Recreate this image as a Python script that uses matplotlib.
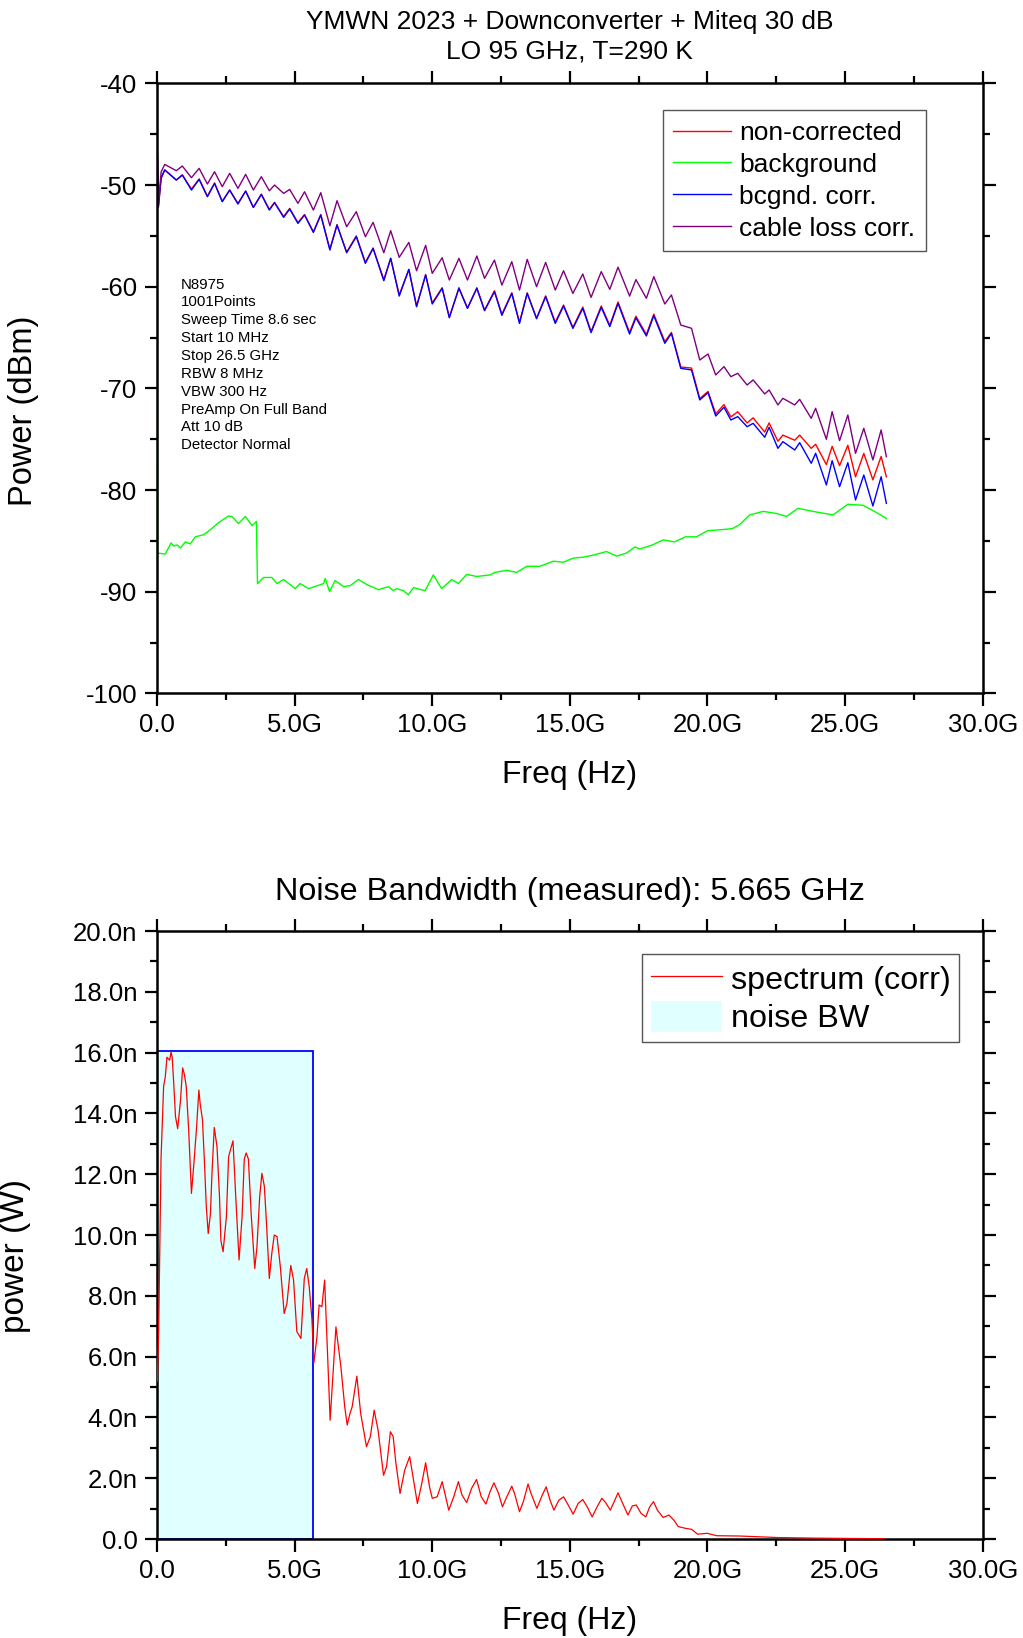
import matplotlib
matplotlib.use("Agg")
import matplotlib.pyplot as plt
from matplotlib.ticker import MultipleLocator, FuncFormatter

plt.rcParams['font.family'] = ['Liberation Sans', 'DejaVu Sans']
plt.rcParams['axes.unicode_minus'] = False

# ---- top panel: spectrum analyser traces, freq in GHz, power in dBm
freq_top = [0.01, 0.05, 0.15, 0.28, 0.7, 0.92, 1.25, 1.53, 1.83, 2.09, 2.37, 2.64, 2.94, 3.22,
            3.5, 3.79, 4.08, 4.27, 4.6, 4.82, 5.12, 5.36, 5.68, 5.95, 6.28, 6.54, 6.89, 7.24,
            7.57, 7.85, 8.24, 8.49, 8.8, 9.15, 9.43, 9.76, 10.0, 10.36, 10.62, 10.97, 11.28,
            11.62, 11.9, 12.26, 12.53, 12.89, 13.17, 13.45, 13.79, 14.12, 14.47, 14.77, 15.11,
            15.47, 15.77, 16.14, 16.45, 16.75, 17.17, 17.4, 17.78, 18.05, 18.45, 18.69, 19.03,
            19.42, 19.72, 20.02, 20.3, 20.6, 20.85, 21.1, 21.44, 21.66, 22.08, 22.24, 22.56,
            22.74, 23.17, 23.35, 23.77, 23.93, 24.32, 24.53, 24.8, 25.1, 25.38, 25.68, 26.01,
            26.31, 26.5]
non_corrected = [-46.8, -52.2, -49.3, -48.5, -49.5, -49.0, -50.4, -49.4, -51.1, -49.8, -51.6,
                 -50.5, -51.8, -50.6, -52.2, -50.9, -52.4, -51.7, -53.1, -52.3, -53.7, -52.9,
                 -54.6, -52.9, -56.3, -53.9, -56.6, -55.0, -57.6, -56.2, -59.3, -57.2, -60.8,
                 -58.3, -61.9, -58.8, -61.6, -60.1, -63.0, -60.1, -62.1, -60.1, -62.3, -60.4,
                 -62.7, -60.6, -63.5, -60.6, -63.1, -60.9, -63.5, -61.8, -64.0, -62.0, -64.4,
                 -61.9, -63.8, -61.5, -64.5, -62.9, -64.7, -62.7, -65.4, -64.5, -67.9, -68.0,
                 -71.0, -70.3, -72.5, -71.6, -72.8, -72.3, -73.4, -72.9, -74.3, -73.4, -75.2,
                 -74.6, -75.1, -74.6, -75.9, -75.5, -77.5, -75.7, -77.6, -75.6, -78.7, -76.4,
                 -79.0, -76.7, -78.7]
bcgnd_corr = [-46.8, -52.1, -49.3, -48.52, -49.51, -49.02, -50.49, -49.44, -51.15, -49.84, -51.64,
              -50.49, -51.87, -50.59, -52.2, -50.92, -52.46, -51.74, -53.18, -52.36, -53.77, -52.95,
              -54.66, -52.95, -56.39, -53.93, -56.66, -55.08, -57.7, -56.23, -59.41, -57.21, -60.92,
              -58.3, -61.97, -58.85, -61.7, -60.16, -63.05, -60.16, -62.13, -60.16, -62.36, -60.49,
              -62.82, -60.66, -63.61, -60.66, -63.15, -60.98, -63.61, -61.9, -64.1, -62.13, -64.52,
              -62.03, -63.93, -61.64, -64.66, -63.06, -64.85, -62.85, -65.57, -64.6, -68.03, -68.19,
              -71.14, -70.42, -72.72, -71.86, -73.11, -72.78, -73.77, -73.44, -74.81, -73.83, -75.9,
              -75.24, -76.06, -75.34, -77.37, -76.39, -79.5, -77.11, -79.67, -77.31, -80.98, -78.52,
              -81.57, -78.69, -81.31]
cable_loss_corr = [-46.6, -51.9, -48.7, -47.97, -48.59, -48.13, -49.28, -48.36, -49.9, -48.69, -50.16,
                   -48.85, -50.33, -48.95, -50.49, -49.18, -50.56, -50.0, -50.82, -50.43, -51.8, -50.66,
                   -52.46, -50.75, -54.0, -51.54, -54.1, -52.62, -55.08, -53.67, -56.66, -54.49, -57.11,
                   -55.64, -58.43, -55.93, -58.69, -57.15, -59.34, -57.21, -59.34, -56.98, -59.18, -57.38,
                   -59.84, -57.54, -60.33, -57.31, -60.0, -57.61, -60.33, -58.43, -60.66, -58.75, -61.05,
                   -58.52, -60.26, -58.08, -60.92, -59.3, -61.14, -59.01, -61.7, -60.81, -63.77, -64.09,
                   -67.21, -66.62, -68.68, -67.86, -68.85, -68.52, -69.67, -69.17, -70.55, -70.16, -71.63,
                   -70.98, -71.63, -71.08, -72.95, -71.96, -75.01, -72.29, -75.14, -72.62, -76.39, -73.93,
                   -77.04, -74.09, -76.72]

freq_bg = [0.0, 0.02, 0.3, 0.51, 0.6, 0.73, 0.85, 1.03, 1.21, 1.39, 1.69, 1.94, 2.24, 2.6, 2.72,
           2.96, 3.21, 3.45, 3.61, 3.65, 3.87, 4.17, 4.36, 4.6, 5.02, 5.2, 5.51, 6.05, 6.11, 6.27,
           6.47, 6.78, 7.02, 7.32, 7.62, 8.05, 8.41, 8.59, 8.71, 8.95, 9.13, 9.32, 9.74, 10.04,
           10.34, 10.71, 10.95, 11.25, 11.62, 12.1, 12.28, 12.7, 13.07, 13.43, 13.91, 14.4, 14.76,
           15.12, 15.49, 15.85, 16.33, 16.7, 17.06, 17.36, 17.54, 18.0, 18.4, 18.8, 19.2, 19.6,
           20.0, 20.5, 20.9, 21.17, 21.53, 22.02, 22.5, 22.87, 23.29, 23.83, 24.56, 25.1, 25.65,
           26.07, 26.5]
background = [-38.0, -86.2, -86.3, -85.2, -85.5, -85.4, -85.7, -85.1, -85.3, -84.6, -84.4, -83.9,
              -83.2, -82.55, -82.6, -83.3, -82.6, -83.5, -83.1, -89.2, -88.6, -88.6, -89.2, -88.8,
              -89.7, -89.2, -89.7, -89.2, -88.7, -90.0, -88.9, -89.5, -89.4, -88.8, -89.3, -89.8,
              -89.5, -89.9, -89.7, -89.9, -90.3, -89.6, -89.9, -88.35, -89.7, -88.8, -89.2, -88.3,
              -88.5, -88.35, -88.1, -87.9, -88.1, -87.5, -87.5, -87.0, -87.1, -86.7, -86.6, -86.4,
              -86.05, -86.5, -86.2, -85.6, -85.8, -85.4, -84.9, -85.1, -84.6, -84.6, -84.0, -83.9,
              -83.8, -83.4, -82.45, -82.1, -82.3, -82.6, -81.8, -82.1, -82.45, -81.4, -81.5, -82.1,
              -82.8]

settings = ["N8975", "1001Points", "Sweep Time 8.6 sec", "Start 10 MHz", "Stop 26.5 GHz",
            "RBW 8 MHz", "VBW 300 Hz", "PreAmp On Full Band", "Att 10 dB", "Detector Normal"]

# ---- bottom panel: corrected spectrum, freq in GHz, power in nW
freq_spec = [0.01, 0.06, 0.145, 0.24, 0.3, 0.36, 0.46, 0.51, 0.55, 0.6, 0.67, 0.75, 0.85, 0.93, 0.99,
             1.06, 1.15, 1.25, 1.33, 1.43, 1.52, 1.57, 1.65, 1.72, 1.79, 1.86, 1.94, 2.0, 2.08, 2.18,
             2.27, 2.32, 2.4, 2.52, 2.6, 2.76, 2.86, 2.98, 3.09, 3.17, 3.24, 3.32, 3.42, 3.55, 3.63,
             3.73, 3.81, 3.9, 3.97, 4.08, 4.17, 4.26, 4.36, 4.48, 4.62, 4.72, 4.86, 4.96, 5.08, 5.23,
             5.35, 5.44, 5.53, 5.63, 5.7, 5.81, 5.89, 5.99, 6.09, 6.29, 6.5, 6.68, 6.82, 6.91, 7.01,
             7.09, 7.26, 7.4, 7.61, 7.75, 7.89, 8.03, 8.23, 8.34, 8.48, 8.58, 8.68, 8.83, 9.0, 9.18,
             9.32, 9.46, 9.62, 9.76, 9.9, 10.0, 10.18, 10.36, 10.46, 10.6, 10.78, 10.95, 11.08, 11.25,
             11.43, 11.61, 11.78, 11.95, 12.1, 12.24, 12.41, 12.55, 12.71, 12.89, 12.99, 13.17, 13.31,
             13.48, 13.59, 13.8, 13.98, 14.14, 14.28, 14.42, 14.6, 14.77, 14.91, 15.12, 15.3, 15.47,
             15.63, 15.81, 15.99, 16.16, 16.3, 16.47, 16.61, 16.75, 16.93, 17.11, 17.27, 17.41, 17.59,
             17.76, 17.9, 18.04, 18.18, 18.39, 18.6, 18.78, 18.94, 19.22, 19.43, 19.64, 19.99, 20.33,
             21.17, 22.55, 23.95, 25.34, 26.45]
spectrum_corr = [5.2, 6.9, 12.5, 14.9, 15.2, 15.85, 15.75, 16.03, 15.85, 15.1, 13.9, 13.5, 14.4, 15.5,
                 15.3, 14.9, 13.45, 11.37, 12.25, 13.45, 14.77, 14.3, 13.8, 12.47, 10.93, 10.05, 10.7,
                 12.1, 13.54, 12.9, 11.26, 9.83, 9.45, 10.6, 12.58, 13.1, 11.26, 9.18, 10.6, 12.5, 12.7,
                 12.5, 10.7, 8.9, 9.6, 11.26, 12.03, 11.6, 10.5, 8.57, 9.4, 10.0, 9.95, 8.96, 7.42, 7.75,
                 9.0, 8.52, 6.82, 6.6, 8.57, 8.9, 8.3, 7.2, 5.8, 6.65, 7.7, 7.64, 8.52, 3.91, 6.98, 5.67,
                 4.35, 3.75, 4.13, 4.35, 5.36, 4.13, 3.04, 3.37, 4.24, 3.59, 2.1, 2.38, 3.53, 3.37, 2.49,
                 1.5, 2.27, 2.71, 1.94, 1.17, 1.83, 2.51, 1.72, 1.34, 1.39, 1.89, 1.5, 0.95, 1.39, 1.89,
                 1.45, 1.2, 1.67, 1.96, 1.39, 1.15, 1.56, 1.85, 1.5, 1.06, 1.39, 1.74, 1.5, 0.9, 1.23,
                 1.81, 1.5, 1.01, 1.41, 1.72, 1.28, 0.95, 1.28, 1.39, 1.17, 0.82, 1.17, 1.3, 1.06, 0.73,
                 1.06, 1.34, 1.2, 0.95, 1.23, 1.52, 1.15, 0.79, 1.09, 1.12, 0.84, 0.73, 1.06, 1.23, 0.95,
                 0.71, 0.79, 0.62, 0.41, 0.35, 0.32, 0.16, 0.19, 0.11, 0.1, 0.05, 0.03, 0.02, 0.01]
noise_bw = 5.665       # GHz
noise_bw_height = 16.06  # nW


def style_axes(ax):
    for s in ax.spines.values():
        s.set_linewidth(1.8)
    ax.tick_params(which='both', direction='out', top=True, right=True, width=1.6,
                   labelsize=18.5, pad=5)
    ax.tick_params(which='major', length=9)
    ax.tick_params(which='minor', length=5)


def freq_fmt(v, pos):
    return "0.0" if v == 0 else f"{v:.1f}G"


fig = plt.figure(figsize=(10.23, 16.38), dpi=100)

# top plot
ax1 = fig.add_axes([0.1535, 0.5767, 0.8071, 0.3724])
ax1.plot(freq_top, non_corrected, color='#FF0000', lw=1.0, label='non-corrected')
ax1.plot(freq_bg, background, color='#00FF00', lw=1.0, label='background')
ax1.plot(freq_top, bcgnd_corr, color='#0000FF', lw=1.0, label='bcgnd. corr.')
ax1.plot(freq_top, cable_loss_corr, color='#800080', lw=1.0, label='cable loss corr.')
ax1.set_xlim(0, 30)
ax1.set_ylim(-100, -40)
ax1.xaxis.set_major_locator(MultipleLocator(5))
ax1.xaxis.set_minor_locator(MultipleLocator(2.5))
ax1.yaxis.set_major_locator(MultipleLocator(10))
ax1.yaxis.set_minor_locator(MultipleLocator(5))
ax1.xaxis.set_major_formatter(FuncFormatter(freq_fmt))
style_axes(ax1)
ax1.set_xlabel('Freq (Hz)', fontsize=23)
ax1.xaxis.set_label_coords(0.5, -0.109)
ax1.set_ylabel('Power (dBm)', fontsize=23.5)
ax1.yaxis.set_label_coords(-0.143, 0.464)
leg1 = ax1.legend(loc='upper right', bbox_to_anchor=(0.931, 0.956), borderaxespad=0,
                  fontsize=19, fancybox=False, edgecolor='#555555', handlelength=2.2,
                  handletextpad=0.3, labelspacing=0.3, borderpad=0.4, framealpha=1)
leg1.get_frame().set_linewidth(1.0)
ax1.text(0.88, -59.1, "\n".join(settings), fontsize=10.8, va='top', ha='left', linespacing=1.35)

fig.text(0.557, 0.9822, 'YMWN 2023 + Downconverter + Miteq 30 dB', fontsize=19,
         ha='center', va='baseline')
fig.text(0.557, 0.9640, 'LO 95 GHz, T=290 K', fontsize=19, ha='center', va='baseline')

# bottom plot
ax2 = fig.add_axes([0.1535, 0.0604, 0.8071, 0.3712])
ax2.bar(0, noise_bw_height, width=noise_bw, align='edge', color='#E0FFFF',
        edgecolor='none', label='noise BW', zorder=1)
ax2.bar(0, noise_bw_height, width=noise_bw, align='edge', fill=False,
        edgecolor='#0000FF', lw=1.3, zorder=2)
ax2.plot(freq_spec, spectrum_corr, color='#FF0000', lw=0.9, label='spectrum (corr)', zorder=3)
ax2.set_xlim(0, 30)
ax2.set_ylim(0, 20)
ax2.xaxis.set_major_locator(MultipleLocator(5))
ax2.xaxis.set_minor_locator(MultipleLocator(2.5))
ax2.yaxis.set_major_locator(MultipleLocator(2))
ax2.yaxis.set_minor_locator(MultipleLocator(1))
ax2.xaxis.set_major_formatter(FuncFormatter(freq_fmt))
ax2.yaxis.set_major_formatter(FuncFormatter(lambda v, p: "0.0" if v == 0 else f"{v:.1f}n"))
style_axes(ax2)
ax2.set_xlabel('Freq (Hz)', fontsize=23)
ax2.xaxis.set_label_coords(0.5, -0.110)
ax2.set_ylabel('power (W)', fontsize=24)
ax2.yaxis.set_label_coords(-0.153, 0.465)
ax2.set_title('Noise Bandwidth (measured): 5.665 GHz', fontsize=23.3, pad=22)
h, l = ax2.get_legend_handles_labels()
leg2 = ax2.legend(loc='upper right', bbox_to_anchor=(0.9717, 0.962),
                  borderaxespad=0, fontsize=23.3, fancybox=False, edgecolor='#555555',
                  handlelength=2.2, handleheight=1.1, handletextpad=0.3, labelspacing=0.15,
                  borderpad=0.25, framealpha=1)
leg2.get_frame().set_linewidth(1.0)

fig.savefig('out.png', dpi=100)
